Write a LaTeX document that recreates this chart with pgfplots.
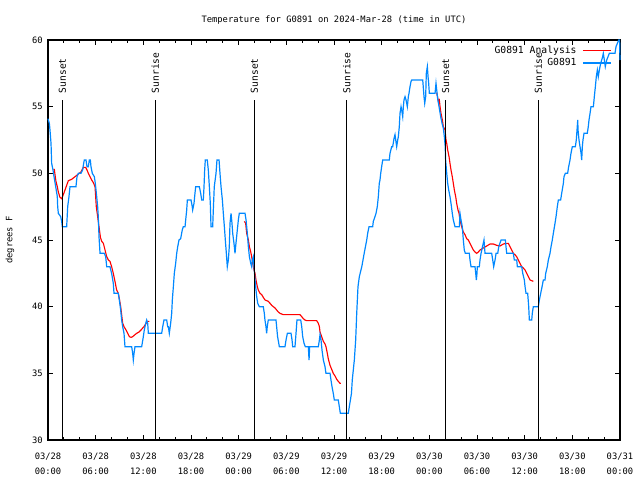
\documentclass[border=0pt]{standalone}
\usepackage{pgfplots}
\pgfplotsset{compat=1.18}
\usepackage{fontspec}
\setmainfont{DejaVu Sans Mono}
\definecolor{obsblue}{RGB}{0,136,255}
\definecolor{anared}{RGB}{255,0,0}
\newcommand{\gfont}{\fontsize{6.6}{7}\selectfont}
\newcommand{\sfontb}{\fontsize{7.2}{8}\selectfont}
\begin{document}
\begin{tikzpicture}
\path[use as bounding box] (-36pt,-30pt) rectangle (444pt,330pt);
\begin{axis}[
  at={(0pt,0pt)}, anchor=south west,
  scale only axis, width=429pt, height=300pt,
  xmin=0, xmax=72, ymin=30, ymax=60,
  clip=false,
  axis line style={line width=0.8pt},
  xtick={0,6,...,72},
  xticklabels={03/28\\00:00,03/28\\06:00,03/28\\12:00,03/28\\18:00,03/29\\00:00,03/29\\06:00,03/29\\12:00,03/29\\18:00,03/30\\00:00,03/30\\06:00,03/30\\12:00,03/30\\18:00,03/31\\00:00},
  minor x tick num=2,
  ytick={30,35,...,60},
  tick align=inside,
  major tick length=4pt, minor tick length=2.5pt,
  tick style={line width=0.7pt, black},
  /pgf/number format/assume math mode=true,
  xticklabel style={align=center, font=\fontsize{6.6}{11.25}\selectfont, yshift=-6pt},
  yticklabel style={font=\fontsize{6.6}{7}\selectfont, xshift=-0.5pt},
  legend style={draw=none, fill=none, at={(1,1)}, anchor=north east, xshift=-6pt, yshift=-3pt, font=\fontsize{7.3}{8}\selectfont, inner sep=0pt, row sep=0pt, column sep=3pt, nodes={inner sep=1.2pt}},
  legend cell align=right,
  legend plot pos=right,
  legend image code/.code={\draw[#1, line width=1.15pt] (0pt,0pt) -- (21pt,0pt);},
]
% Analysis (red), segment 1
\addplot[anared, line width=0.85pt] coordinates {
(0.67,50.3)(0.8,50.3)(0.88,49.9)(1.0,49.4)(1.17,49.0)(1.3,48.6)(1.51,48.2)(1.72,48.1)(1.93,48.4)(2.14,48.75)(2.35,49.1)(2.56,49.45)(2.98,49.55)(3.4,49.75)(3.82,49.95)(4.15,50.1)(4.45,50.45)(4.74,50.45)(4.91,50.25)(5.08,50.0)(5.29,49.75)(5.5,49.5)(5.71,49.3)(5.92,49.0)(6.0,48.25)(6.08,47.5)(6.25,46.75)(6.42,46.0)(6.6,45.2)(6.76,44.9)(6.97,44.75)(7.18,44.25)(7.39,43.75)(7.6,43.5)(7.8,43.4)(8.01,43.0)(8.22,42.5)(8.43,41.9)(8.64,41.25)(8.85,41.0)(8.98,40.6)(9.15,40.0)(9.27,39.4)(9.4,38.75)(9.57,38.5)(9.82,38.25)(10.03,38.0)(10.24,37.75)(10.45,37.7)(10.66,37.75)(10.95,37.9)(11.16,38.0)(11.46,38.1)(11.71,38.25)(11.92,38.4)(12.08,38.5)(12.3,38.7)(12.5,38.9)(12.75,38.9)
};
\addlegendentry{G0891 Analysis}
% Analysis segment 2
\addplot[anared, line width=0.85pt, forget plot] coordinates {
(24.72,46.4)(24.88,46.25)(25.01,45.5)(25.22,45.0)(25.35,44.5)(25.52,44.1)(25.64,43.75)(25.77,43.25)(25.93,42.75)(26.06,42.5)(26.18,42.0)(26.35,41.5)(26.47,41.25)(26.69,41.0)(26.9,40.9)(27.1,40.7)(27.32,40.5)(27.73,40.4)(27.95,40.25)(28.16,40.1)(28.36,40.0)(28.58,39.9)(28.78,39.75)(28.99,39.6)(29.2,39.5)(29.62,39.4)(31.09,39.4)(31.51,39.4)(31.72,39.4)(31.94,39.25)(32.14,39.1)(32.35,39.0)(32.56,38.95)(33.82,38.95)(34.03,38.75)(34.16,38.5)(34.24,38.1)(34.45,37.75)(34.66,37.4)(34.87,37.2)(34.99,37.0)(35.16,36.5)(35.28,36.1)(35.5,35.6)(35.71,35.3)(35.91,35.0)(36.13,34.8)(36.34,34.55)(36.54,34.4)(36.76,34.25)(36.88,34.25)
};
% Analysis segment 3
\addplot[anared, line width=0.85pt, forget plot] coordinates {
(48.93,56.05)(49.14,55.4)(49.26,55.5)(49.35,55.0)(49.47,54.5)(49.64,54.0)(49.76,53.5)(49.98,53.25)(50.1,52.5)(50.19,52.25)(50.31,51.75)(50.48,51.25)(50.6,50.75)(50.73,50.25)(50.89,49.75)(51.02,49.25)(51.15,48.75)(51.32,48.25)(51.44,47.75)(51.61,47.25)(51.74,47.0)(51.86,46.5)(52.07,46.0)(52.28,45.6)(52.49,45.4)(52.7,45.1)(52.91,45.0)(53.12,44.75)(53.33,44.5)(53.54,44.25)(53.75,44.1)(53.96,44.0)(54.17,44.1)(54.38,44.25)(54.8,44.4)(55.22,44.55)(55.64,44.7)(56.06,44.7)(56.48,44.6)(56.9,44.55)(57.32,44.7)(57.74,44.75)(57.95,44.75)(58.16,44.5)(58.37,44.25)(58.57,44.0)(58.78,43.9)(58.99,43.75)(59.2,43.5)(59.41,43.25)(59.63,43.0)(59.83,42.9)(60.05,42.75)(60.26,42.5)(60.47,42.25)(60.68,42.0)(61.09,41.9)
};
% Observations (blue)
\addplot[obsblue, line width=0.9pt] coordinates {
(0.0,54.1)(0.17,53.75)(0.25,53.25)(0.38,52.25)(0.46,50.75)(0.63,50.25)(0.76,49.75)(0.97,49.0)(1.17,48.25)(1.22,47.5)(1.3,47.0)(1.6,46.75)(1.72,46.4)(1.8,46.0)(2.35,46.0)(2.48,47.5)(2.64,48.25)(2.77,49.0)(3.52,49.0)(3.65,49.75)(3.82,50.0)(4.15,50.0)(4.36,50.25)(4.49,50.75)(4.57,51.0)(4.78,51.0)(4.91,50.5)(5.08,50.5)(5.2,51.0)(5.33,51.0)(5.41,50.5)(5.58,50.0)(5.83,49.75)(5.92,49.4)(6.0,49.0)(6.13,48.25)(6.25,47.5)(6.33,46.75)(6.42,45.25)(6.55,44.0)(7.09,44.0)(7.26,43.75)(7.39,43.0)(7.8,43.0)(8.01,42.5)(8.22,41.75)(8.31,41.0)(8.85,41.0)(8.98,40.5)(9.15,39.75)(9.27,39.0)(9.4,38.5)(9.57,38.0)(9.69,37.0)(10.53,37.0)(10.66,36.5)(10.74,36.0)(10.83,36.5)(10.95,37.0)(11.79,37.0)(12.0,37.75)(12.12,38.25)(12.3,38.75)(12.42,39.0)(12.55,38.75)(12.63,38.0)(12.84,38.0)(14.31,38.0)(14.44,38.5)(14.6,39.0)(14.94,39.0)(15.07,38.5)(15.15,38.5)(15.27,38.0)(15.44,38.75)(15.57,39.5)(15.65,40.5)(15.78,41.5)(15.9,42.5)(16.07,43.25)(16.2,44.0)(16.33,44.5)(16.49,45.0)(16.7,45.1)(16.9,45.75)(17.03,46.0)(17.25,46.0)(17.33,46.5)(17.46,47.25)(17.54,48.0)(18.0,48.0)(18.13,47.6)(18.21,47.25)(18.38,47.75)(18.5,48.5)(18.59,49.0)(19.05,49.0)(19.22,48.5)(19.35,48.0)(19.55,48.0)(19.64,49.0)(19.72,50.25)(19.8,51.0)(20.05,51.0)(20.18,50.25)(20.31,49.0)(20.43,47.75)(20.52,46.0)(20.73,46.0)(20.81,47.25)(20.93,49.0)(21.15,50.0)(21.27,51.0)(21.53,51.0)(21.65,50.0)(21.78,49.0)(21.95,48.0)(22.07,47.0)(22.2,46.0)(22.32,45.0)(22.45,44.0)(22.57,43.0)(22.7,43.5)(22.82,44.5)(22.91,46.25)(23.04,47.0)(23.16,46.25)(23.25,45.5)(23.41,44.75)(23.54,44.0)(23.66,44.75)(23.83,45.75)(23.96,46.5)(24.08,47.0)(24.8,47.0)(24.93,46.5)(25.09,45.5)(25.22,44.5)(25.35,43.75)(25.52,43.25)(25.64,43.0)(25.72,43.5)(25.85,43.75)(25.93,43.0)(26.06,42.0)(26.14,41.5)(26.27,40.75)(26.4,40.25)(26.6,40.0)(27.1,40.0)(27.23,39.5)(27.31,39.0)(27.44,38.5)(27.52,38.0)(27.6,38.5)(27.73,39.0)(28.7,39.0)(28.78,38.5)(28.9,37.75)(29.12,37.0)(29.83,37.0)(29.96,37.5)(30.13,38.0)(30.59,38.0)(30.72,37.5)(30.8,37.0)(31.09,37.0)(31.22,38.0)(31.34,39.0)(31.81,39.0)(31.94,38.5)(32.06,37.75)(32.23,37.25)(32.39,37.0)(32.77,37.0)(32.86,36.0)(32.94,37.0)(34.03,37.0)(34.16,37.5)(34.24,37.9)(34.37,37.5)(34.49,36.75)(34.66,36.0)(34.87,35.5)(34.99,35.0)(35.5,35.0)(35.62,34.5)(35.75,34.0)(35.91,33.5)(36.04,33.0)(36.54,33.0)(36.67,32.5)(36.8,32.0)(37.8,32.0)(37.93,32.5)(38.2,33.5)(38.3,34.5)(38.56,36.0)(38.73,37.5)(38.86,39.5)(39.02,41.5)(39.19,42.25)(39.5,43.0)(39.8,44.0)(40.12,45.0)(40.24,45.5)(40.41,46.0)(40.87,46.0)(40.95,46.4)(41.16,46.75)(41.29,47.0)(41.45,47.5)(41.58,48.25)(41.7,49.25)(41.79,49.5)(41.88,50.0)(42.0,50.5)(42.13,51.0)(42.96,51.0)(43.05,51.5)(43.26,52.0)(43.39,52.0)(43.55,52.6)(43.68,52.9)(43.77,52.5)(43.89,52.0)(44.02,52.5)(44.1,52.75)(44.22,53.5)(44.31,54.5)(44.44,55.0)(44.52,54.75)(44.65,54.25)(44.73,55.0)(44.81,55.5)(44.94,55.75)(45.07,55.5)(45.23,55.0)(45.36,55.75)(45.44,56.0)(45.57,56.5)(45.7,56.9)(45.78,57.0)(47.17,57.0)(47.33,55.75)(47.42,55.25)(47.54,55.75)(47.62,57.5)(47.75,58.0)(47.84,57.25)(47.92,56.75)(48.0,56.0)(48.72,56.0)(48.84,56.75)(48.93,56.25)(49.05,55.6)(49.22,55.0)(49.43,54.25)(49.6,53.75)(49.76,53.4)(49.89,52.75)(50.0,52.0)(50.05,51.0)(50.19,50.0)(50.31,49.25)(50.44,48.75)(50.6,48.25)(50.73,47.75)(50.89,47.0)(51.02,46.5)(51.23,46.0)(51.78,46.0)(51.86,47.0)(51.99,46.5)(52.15,46.0)(52.28,45.0)(52.4,44.25)(52.53,44.0)(53.03,44.0)(53.12,43.5)(53.25,43.0)(53.75,43.0)(53.84,42.5)(53.92,42.0)(54.0,42.5)(54.04,43.0)(54.29,43.0)(54.38,43.5)(54.51,44.0)(54.88,45.0)(55.01,44.0)(55.85,44.0)(55.98,43.5)(56.1,43.0)(56.27,43.5)(56.4,44.0)(56.61,44.0)(56.74,44.5)(57.03,45.0)(57.57,45.0)(57.65,44.5)(57.74,44.0)(58.57,44.0)(58.7,43.5)(59.0,43.5)(59.08,43.0)(59.63,43.0)(59.76,42.5)(59.96,42.0)(60.05,41.5)(60.17,41.0)(60.38,41.0)(60.51,40.0)(60.59,39.0)(60.89,39.0)(60.96,39.5)(61.09,40.0)(61.72,40.0)(61.85,40.5)(62.02,41.0)(62.19,41.5)(62.35,42.0)(62.56,42.0)(62.65,42.5)(62.85,43.0)(62.98,43.5)(63.19,44.0)(63.32,44.5)(63.48,45.0)(63.61,45.5)(63.82,46.25)(63.95,46.75)(64.11,47.5)(64.24,48.0)(64.53,48.0)(64.66,48.5)(64.87,49.25)(64.95,49.75)(65.12,50.0)(65.41,50.0)(65.54,50.5)(65.71,51.0)(65.83,51.5)(66.0,52.0)(66.38,52.0)(66.5,52.5)(66.59,53.25)(66.68,54.0)(66.72,53.25)(66.84,52.5)(66.97,52.0)(67.1,51.5)(67.18,51.0)(67.26,52.0)(67.34,52.5)(67.47,53.0)(67.88,53.0)(68.01,53.5)(68.1,54.0)(68.23,54.5)(68.35,55.0)(68.65,55.0)(68.77,55.75)(68.9,56.5)(69.02,57.25)(69.15,57.75)(69.27,57.25)(69.4,57.75)(69.57,58.25)(69.82,58.75)(69.9,59.0)(70.03,58.5)(70.15,58.0)(70.33,58.5)(70.66,59.0)(71.37,59.0)(71.5,59.5)(71.67,59.75)(71.84,60.0)(71.95,60.0)(72.0,58.5)
};
\addlegendentry{G0891}
% Sunrise / sunset markers
\draw[line width=0.8pt] (axis cs:1.81,30) -- (axis cs:1.81,55.5);
\node[rotate=90, anchor=west, inner sep=0pt, font=\sfontb] at (axis cs:1.81,56.0) {Sunset};
\draw[line width=0.8pt] (axis cs:13.51,30) -- (axis cs:13.51,55.5);
\node[rotate=90, anchor=west, inner sep=0pt, font=\sfontb] at (axis cs:13.51,56.0) {Sunrise};
\draw[line width=0.8pt] (axis cs:25.97,30) -- (axis cs:25.97,55.5);
\node[rotate=90, anchor=west, inner sep=0pt, font=\sfontb] at (axis cs:25.97,56.0) {Sunset};
\draw[line width=0.8pt] (axis cs:37.6,30) -- (axis cs:37.6,55.5);
\node[rotate=90, anchor=west, inner sep=0pt, font=\sfontb] at (axis cs:37.6,56.0) {Sunrise};
\draw[line width=0.8pt] (axis cs:50.06,30) -- (axis cs:50.06,55.5);
\node[rotate=90, anchor=west, inner sep=0pt, font=\sfontb] at (axis cs:50.06,56.0) {Sunset};
\draw[line width=0.8pt] (axis cs:61.72,30) -- (axis cs:61.72,55.5);
\node[rotate=90, anchor=west, inner sep=0pt, font=\sfontb] at (axis cs:61.72,56.0) {Sunrise};
% title and y label
\node[font=\gfont] at (axis description cs:0.5,1.05) {Temperature for G0891 on 2024-Mar-28 (time in UTC)};
\node[rotate=90, font=\gfont] at (axis description cs:-0.0664,0.5) {degrees F};
\end{axis}
\end{tikzpicture}
\end{document}
